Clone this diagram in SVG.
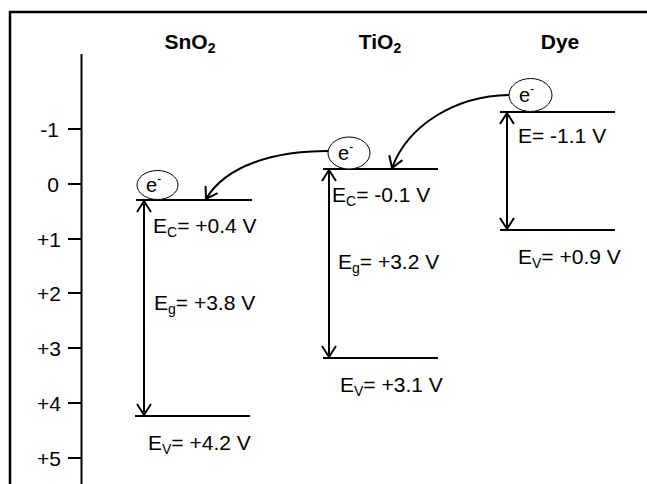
<svg xmlns="http://www.w3.org/2000/svg" width="647" height="484" viewBox="0 0 647 484">
<defs>
<style>
text{font-family:"Liberation Sans",Arial,sans-serif;fill:#000}
.tick{font-size:21px;text-anchor:end}
.title{font-size:21px;font-weight:bold;text-anchor:middle}
.lbl{font-size:21px}
.sub{font-size:14px}
.el{font-size:20px}
.sup{font-size:12px}
.ln{stroke:#000;stroke-width:2;fill:none}
.frame{stroke:#000;stroke-width:2.5;fill:none}
.arr{stroke:#000;stroke-width:2;fill:none;marker-end:url(#ah)}
.darr{stroke:#000;stroke-width:2;fill:none;marker-start:url(#ah);marker-end:url(#ah)}
.circ{fill:#fff;stroke:#000;stroke-width:1}
</style>
<marker id="ah" viewBox="-12 -8 14 16" refX="0" refY="0" markerWidth="14" markerHeight="16" markerUnits="userSpaceOnUse" orient="auto-start-reverse">
<path d="M-11,-7 L0,0 L-11,7" fill="none" stroke="#000" stroke-width="2"/>
</marker>
</defs>
<rect width="647" height="484" fill="#fff"/>
<g id="frame">
<path class="frame" d="M10,484 V12 H647"/>
</g>
<g id="axis">
<path class="ln" d="M81.5,54 V484"/>
<path class="ln" d="M68,129 H81 M68,184 H81 M68,239 H81 M68,293 H81 M68,348 H81 M68,403 H81 M68,458 H81"/>
<text class="tick" x="59" y="137">-1</text>
<text class="tick" x="59" y="192">0</text>
<text class="tick" x="61" y="247">+1</text>
<text class="tick" x="61" y="301">+2</text>
<text class="tick" x="61" y="356">+3</text>
<text class="tick" x="61" y="411">+4</text>
<text class="tick" x="61" y="466">+5</text>
</g>
<g id="sno2">
<text class="title" x="190" y="49">SnO<tspan class="sub" dy="4">2</tspan></text>
<path class="ln" d="M136,200 H252 M135,416 H250"/>
<text class="lbl" x="153" y="233">E<tspan class="sub" dy="4">C</tspan><tspan dy="-4">= +0.4 V</tspan></text>
<text class="lbl" x="154" y="310">E<tspan class="sub" dy="4">g</tspan><tspan dy="-4">= +3.8 V</tspan></text>
<text class="lbl" x="148" y="450">E<tspan class="sub" dy="4">V</tspan><tspan dy="-4">= +4.2 V</tspan></text>
</g>
<g id="sno2-electron">
<ellipse class="circ" cx="157.5" cy="185" rx="20.5" ry="14.5"/>
<text class="el" x="146" y="192">e<tspan class="sup" dy="-9">-</tspan></text>
</g>
<g id="tio2">
<text class="title" x="380" y="49">TiO<tspan class="sub" dy="4">2</tspan></text>
<path class="ln" d="M323,169 H438 M323,358 H438"/>
<text class="lbl" x="332" y="202">E<tspan class="sub" dy="4">C</tspan><tspan dy="-4">= -0.1 V</tspan></text>
<text class="lbl" x="338" y="269">E<tspan class="sub" dy="4">g</tspan><tspan dy="-4">= +3.2 V</tspan></text>
<text class="lbl" x="340" y="392">E<tspan class="sub" dy="4">V</tspan><tspan dy="-4">= +3.1 V</tspan></text>
</g>
<g id="tio2-electron">
<ellipse class="circ" cx="349" cy="153" rx="21" ry="16"/>
<text class="el" x="338" y="160">e<tspan class="sup" dy="-9">-</tspan></text>
</g>
<g id="dye">
<text class="title" x="560" y="49">Dye</text>
<path class="ln" d="M500,112 H615 M500,230 H615"/>
<text class="lbl" x="518" y="143">E= -1.1 V</text>
<text class="lbl" x="518" y="264">E<tspan class="sub" dy="4">V</tspan><tspan dy="-4">= +0.9 V</tspan></text>
</g>
<g id="dye-electron">
<ellipse class="circ" cx="530.5" cy="95" rx="21.5" ry="16.5"/>
<text class="el" x="519" y="102">e<tspan class="sup" dy="-9">-</tspan></text>
</g>
<g id="connectors">
<path class="darr" d="M144,201 V415"/>
<path class="darr" d="M329,170 V357"/>
<path class="darr" d="M507,113 V229"/>
<path class="arr" d="M328,151 C275,151 226,165 206,199"/>
<path class="arr" d="M509,95 C455,96 408,125 392,168"/>
</g>
</svg>
